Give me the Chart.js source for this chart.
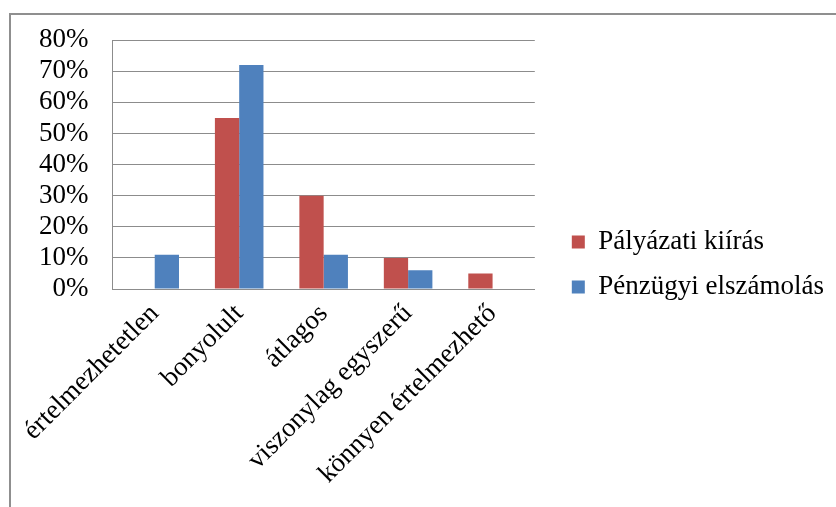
<!DOCTYPE html>
<html>
<head>
<meta charset="utf-8">
<script src="https://cdn.jsdelivr.net/npm/chart.js@4"></script>
<style>
  body { margin: 0; background: #fff; overflow: hidden; }
  #frame { position: absolute; left: 9px; top: 13px; width: 900px; height: 600px; border: 2px solid #8f8f8f; }
  #wrap { position: absolute; left: 0; top: 0; width: 836px; height: 507px; }
</style>
</head>
<body>
<div id="frame"></div>
<div id="wrap"><canvas id="chart"></canvas></div>
<script>
"use strict";
const categories = ['értelmezhetetlen', 'bonyolult', 'átlagos', 'viszonylag egyszerű', 'könnyen értelmezhető'];
const palyazatiKiiras = [0, 55, 30, 10, 5];
const penzugyiElszamolas = [11, 72, 11, 6, 0];
const yTicks = [0, 10, 20, 30, 40, 50, 60, 70, 80];

const serif = { family: '"Liberation Serif", "Times New Roman", serif', size: 27 };
const gridColor = '#8c8c8c';

document.addEventListener("DOMContentLoaded", function () {
    let ctx = document.getElementById('chart').getContext('2d');
    new Chart(ctx, {
        type: 'bar',
        data: {
            labels: categories,
            datasets: [{
                    label: 'Pályázati kiírás',
                    data: palyazatiKiiras,
                    backgroundColor: '#C0504D'
                }, {
                    label: 'Pénzügyi elszámolás',
                    data: penzugyiElszamolas,
                    backgroundColor: '#4F81BD'
                }]
        },
        options: {
            responsive: true,
            maintainAspectRatio: false,
            animation: false,
            categoryPercentage: 0.575,
            barPercentage: 1,
            layout: { padding: { top: 27, bottom: 5, left: 15, right: 2 } },
            scales: {
                x: {
                    grid: { display: false },
                    border: { display: true, color: gridColor },
                    ticks: {
                        font: serif,
                        color: '#000',
                        minRotation: 45,
                        maxRotation: 45,
                        padding: 1,
                        autoSkip: false
                    },
                    afterFit: s => { s.height = 213; }
                },
                y: {
                    min: 0,
                    max: 80,
                    afterBuildTicks: s => { s.ticks = yTicks.map(v => ({ value: v })); },
                    grid: { color: gridColor, drawTicks: false },
                    border: { display: true, color: gridColor },
                    ticks: {
                        font: serif,
                        color: '#000',
                        padding: 24,
                        autoSkip: false,
                        callback: v => v + '%'
                    }
                },
                gap: {
                    axis: 'y',
                    position: 'right',
                    display: true,
                    grid: { display: false },
                    border: { display: false },
                    ticks: { display: false },
                    afterFit: s => { s.width = 19; }
                }
            },
            plugins: {
                legend: {
                    position: 'right',
                    maxWidth: 320,
                    labels: {
                        font: serif,
                        color: '#000',
                        boxWidth: 13,
                        boxHeight: 13,
                        padding: 18
                    }
                },
                tooltip: { enabled: false }
            }
        }
    });
});
</script>
</body>
</html>
